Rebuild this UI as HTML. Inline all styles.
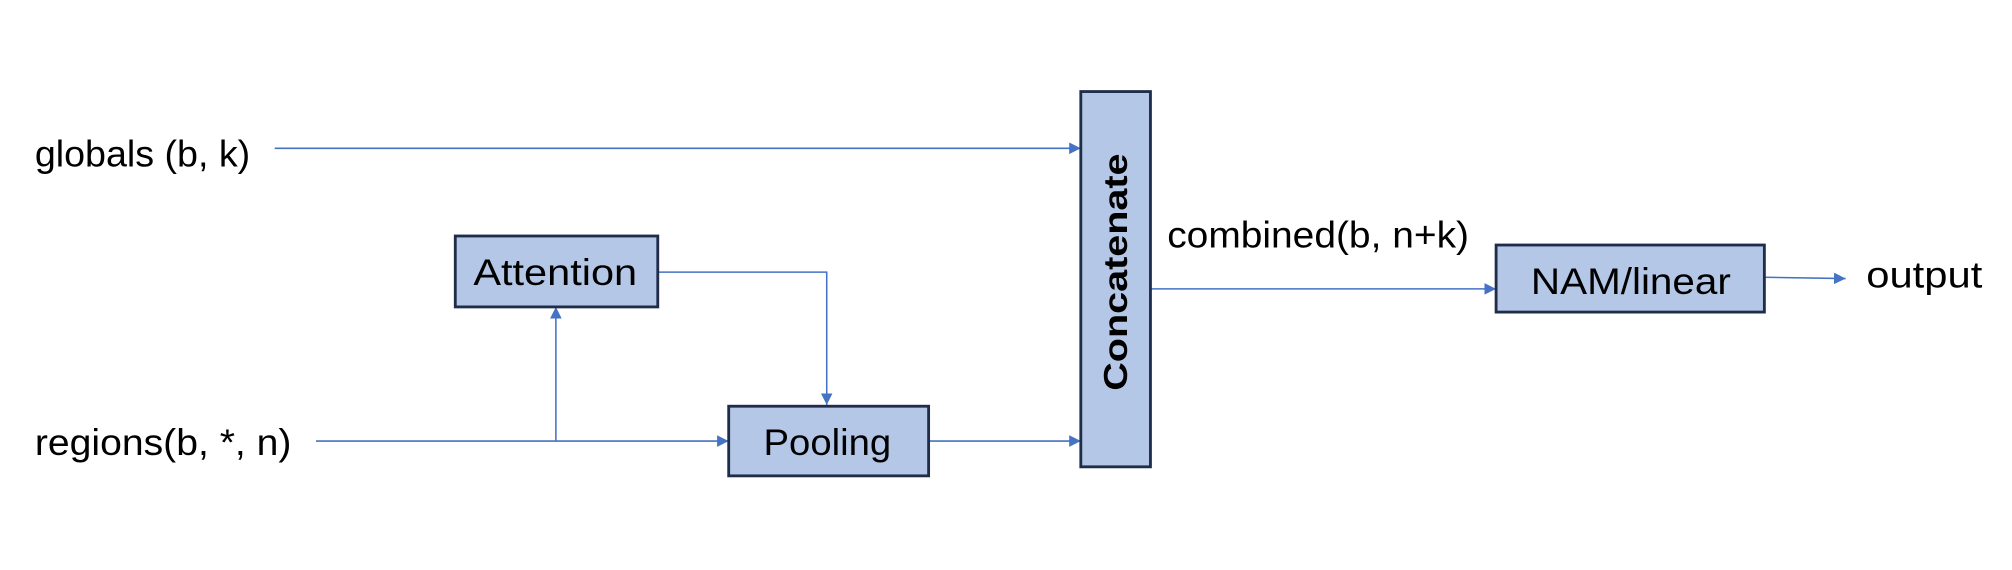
<!DOCTYPE html>
<html><head><meta charset="utf-8"><style>
html,body{margin:0;padding:0;background:#fff;}
svg{display:block;}
text{font-family:"Liberation Sans",sans-serif;fill:#000;}
</style></head><body>
<svg width="2012" height="570" viewBox="0 0 1560 442" preserveAspectRatio="none" xmlns="http://www.w3.org/2000/svg">
<defs>
<marker id="b" viewBox="0 0 10 10" refX="10" refY="5" markerWidth="9" markerHeight="9" orient="auto" markerUnits="userSpaceOnUse">
<path d="M0,0 L10,5 L0,10 z" fill="#4472c4"/>
</marker>
</defs>
<g stroke="#4472c4" stroke-width="1.2" fill="none">
<line x1="213" y1="115" x2="838" y2="115" marker-end="url(#b)"/>
<line x1="245" y1="342" x2="565" y2="342" marker-end="url(#b)"/>
<line x1="431" y1="342" x2="431" y2="238" marker-end="url(#b)"/>
<polyline points="510,211 641,211 641,314" marker-end="url(#b)"/>
<line x1="720" y1="342" x2="838" y2="342" marker-end="url(#b)"/>
<line x1="892" y1="224" x2="1160" y2="224" marker-end="url(#b)"/>
<line x1="1368" y1="215" x2="1431" y2="216" marker-end="url(#b)"/>
</g>
<g fill="#b4c7e7" stroke="#1f2d4a" stroke-width="2.2">
<rect x="838" y="71" width="54" height="291"/>
<rect x="353" y="183" width="157" height="55"/>
<rect x="565" y="315" width="155" height="54"/>
<rect x="1160" y="190" width="208" height="52"/>
</g>
<text x="27" y="129" font-size="29" textLength="167" lengthAdjust="spacingAndGlyphs">globals (b, k)</text>
<text x="27" y="353" font-size="29" textLength="199" lengthAdjust="spacingAndGlyphs">regions(b, *, n)</text>
<text x="367" y="221" font-size="29" textLength="127" lengthAdjust="spacingAndGlyphs">Attention</text>
<text x="592" y="353" font-size="29" textLength="99" lengthAdjust="spacingAndGlyphs">Pooling</text>
<text x="905" y="192" font-size="29" textLength="234" lengthAdjust="spacingAndGlyphs">combined(b, n+k)</text>
<text x="1187" y="228" font-size="29" textLength="155" lengthAdjust="spacingAndGlyphs">NAM/linear</text>
<text x="1447" y="223" font-size="29" textLength="90" lengthAdjust="spacingAndGlyphs">output</text>
<text transform="translate(874,303) rotate(-90)" font-family="DejaVu Sans,sans-serif" font-weight="bold" font-size="26" textLength="184" lengthAdjust="spacingAndGlyphs">Concatenate</text>
</svg>
</body></html>
